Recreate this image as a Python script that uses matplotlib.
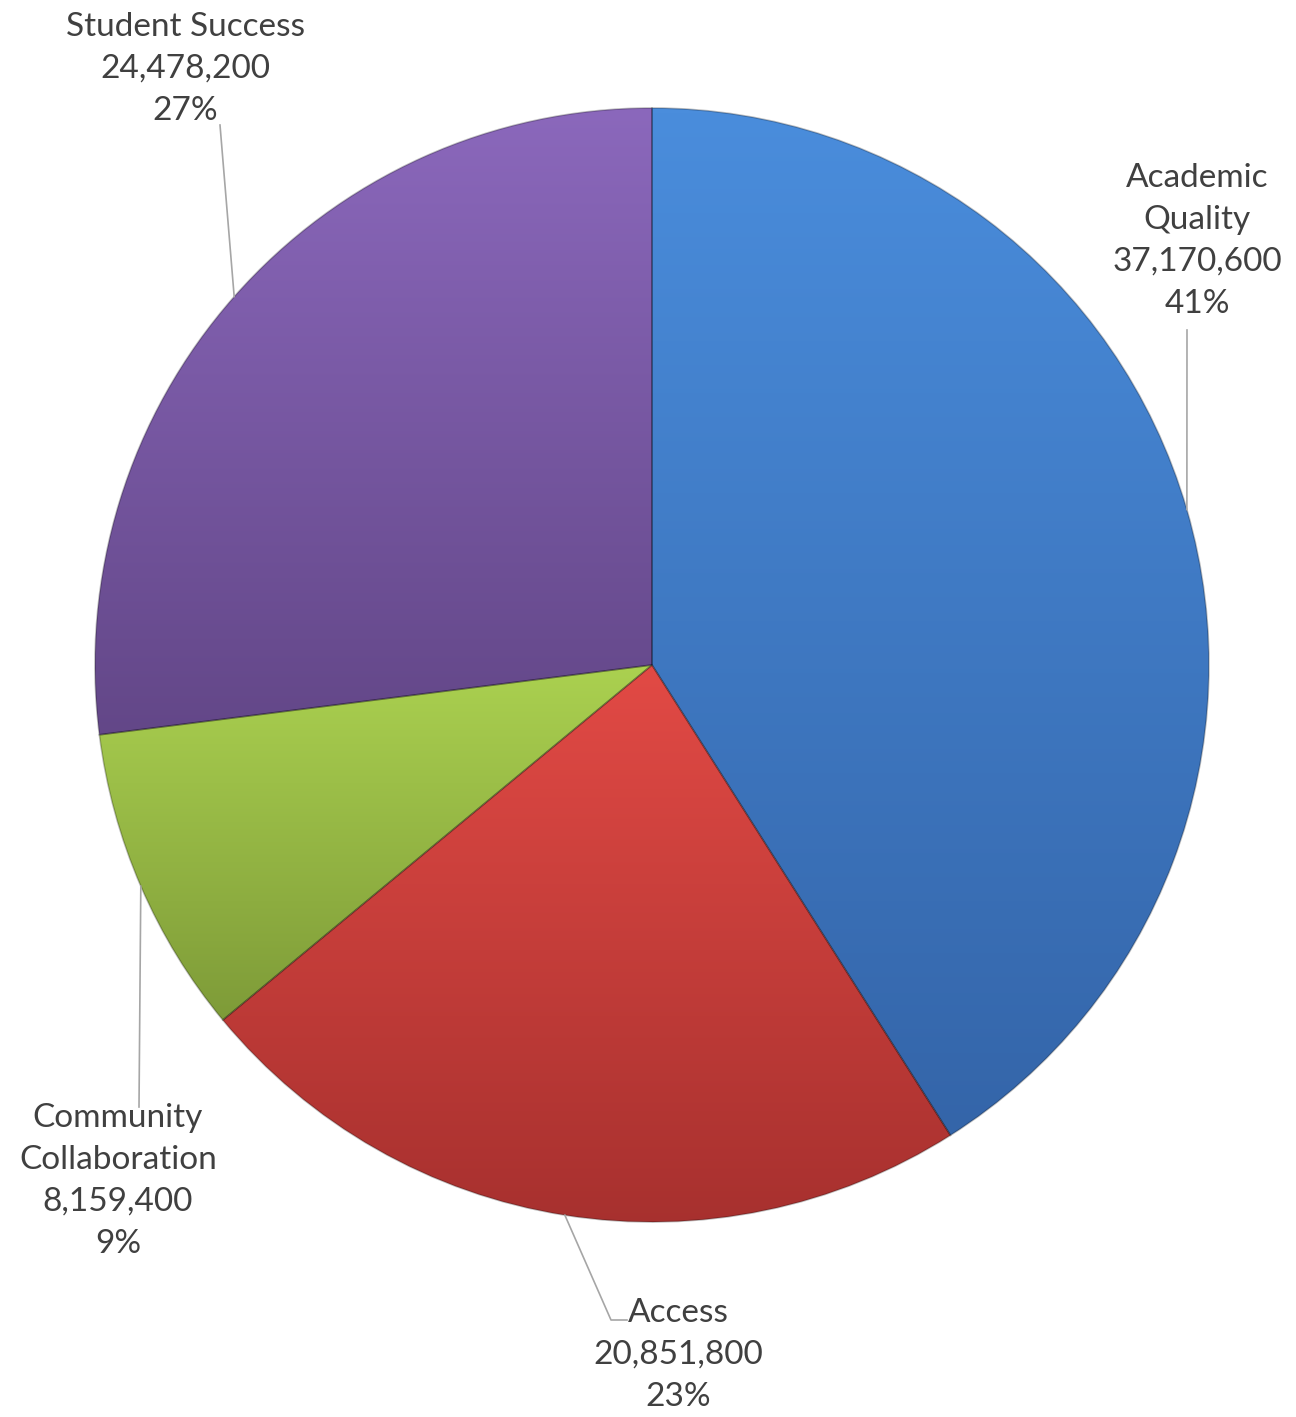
import numpy as np
import matplotlib
matplotlib.use("Agg")
import matplotlib.pyplot as plt
from matplotlib.colors import LinearSegmentedColormap

categories = ["Academic\nQuality", "Access", "Community\nCollaboration", "Student Success"]
values = [37170600, 20851800, 8159400, 24478200]
percent_labels = ["41%", "23%", "9%", "27%"]

top_colors = ["#4A8DDC", "#E24A45", "#ABD150", "#8B68BC"]
bottom_colors = ["#3465A9", "#A6302E", "#7E9B38", "#634788"]

W, H = 1296, 1417
CX, CY, R = 652, 665, 557

def px(x, y):
    return ((x - CX) / R, (CY - y) / R)

fig = plt.figure(figsize=(W / 100, H / 100), dpi=100)
ax = fig.add_axes([0, 0, 1, 1])

wedges, _ = ax.pie(values, startangle=90, counterclock=False, radius=1,
                   center=(0, 0), frame=True,
                   wedgeprops=dict(linewidth=1.2, edgecolor="#00000040"))
ax.set_xlim(-CX / R, (W - CX) / R)
ax.set_ylim(-(H - CY) / R, CY / R)
ax.set_aspect("equal")
ax.axis("off")

for w, c_top, c_bot in zip(wedges, top_colors, bottom_colors):
    path = w.get_path()
    verts = w.get_transform().transform(path.vertices)
    verts = ax.transData.inverted().transform(verts)
    y0, y1 = verts[:, 1].min(), verts[:, 1].max()
    x0, x1 = verts[:, 0].min(), verts[:, 0].max()
    cmap = LinearSegmentedColormap.from_list("g", [c_bot, c_top])
    grad = np.linspace(0, 1, 256).reshape(-1, 1)
    im = ax.imshow(grad, cmap=cmap, origin="lower", aspect="auto",
                   extent=(x0, x1, y0, y1), zorder=w.get_zorder() + 0.1,
                   interpolation="bilinear")
    im.set_clip_path(w)
    w.set_facecolor("none")
    w.set_zorder(w.get_zorder() + 0.2)

ax.set_xlim(-CX / R, (W - CX) / R)
ax.set_ylim(-(H - CY) / R, CY / R)

# labels
text_kw = dict(fontsize=24, color="#404040", family=["Lato", "DejaVu Sans"],
               ha="center", va="center", linespacing=1.5)
label_pos = [(1197, 241), (678, 1355), (118, 1181), (185, 69)]
leader_start = [(1187, 330), (627, 1320), (139, 1107), (220, 125)]
leader_elbow = [None, (611, 1320), None, None]

for i, w in enumerate(wedges):
    mid = np.deg2rad((w.theta1 + w.theta2) / 2)
    ex, ey = np.cos(mid), np.sin(mid)
    txt = f"{categories[i]}\n{values[i]:,}\n{percent_labels[i]}"
    lx, ly = px(*label_pos[i])
    ax.text(lx, ly, txt, zorder=5, **text_kw)
    sx, sy = px(*leader_start[i])
    xs, ys = [sx], [sy]
    if leader_elbow[i] is not None:
        bx, by = px(*leader_elbow[i])
        xs.append(bx); ys.append(by)
    xs.append(ex); ys.append(ey)
    ax.plot(xs, ys, color="#A6A6A6", lw=1.2, zorder=4)

fig.savefig("out.png", dpi=100, facecolor="white")
